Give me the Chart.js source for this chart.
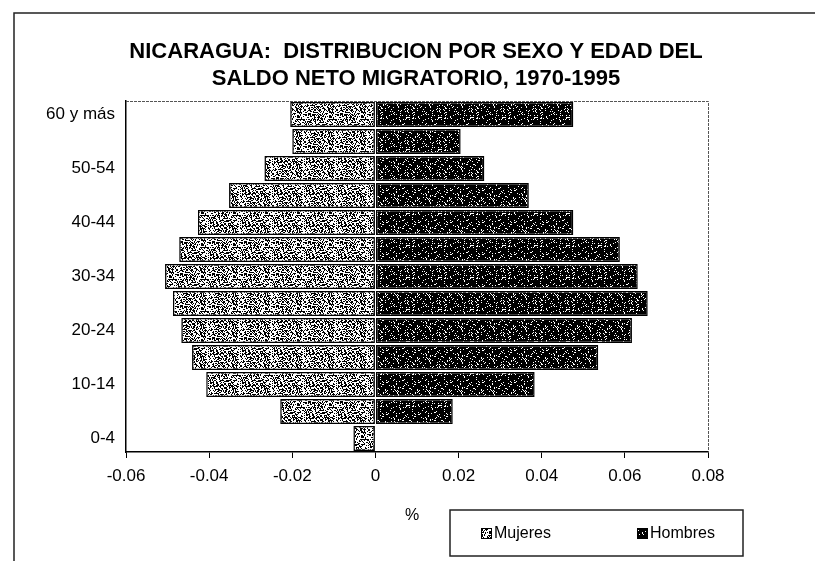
<!DOCTYPE html>
<html>
<head>
<meta charset="utf-8">
<script src="https://cdn.jsdelivr.net/npm/chart.js@4"></script>
<style>
  html, body { margin: 0; padding: 0; background: #fff; }
  #wrap { width: 815px; height: 561px; position: relative; }
</style>
</head>
<body>
<div id="wrap"><canvas id="pyramid" width="815" height="561"></canvas></div>
<script>
// age groups, bottom to top
const ageGroups = ['0-4', '5-9', '10-14', '15-19', '20-24', '25-29', '30-34',
                   '35-39', '40-44', '45-49', '50-54', '55-59', '60 y más'];
const mujeres = [-0.0053, -0.0229, -0.0407, -0.0441, -0.0467, -0.0487, -0.0506,
                 -0.0472, -0.0427, -0.0352, -0.0267, -0.0200, -0.0205];
const hombres = [0, 0.0186, 0.0383, 0.0536, 0.0617, 0.0655, 0.0631,
                 0.0588, 0.0476, 0.0369, 0.0262, 0.0205, 0.0476];
const xTicks = [-0.06, -0.04, -0.02, 0, 0.02, 0.04, 0.06, 0.08];
const titleLines = ['NICARAGUA:  DISTRIBUCION POR SEXO Y EDAD DEL', 'SALDO NETO MIGRATORIO, 1970-1995'];

const FONT = '"Liberation Sans", Arial, sans-serif';

// stippled fill like the scanned hatch (deterministic dither, no randomness)
function makeStipple(bg, fg, density, seed) {
    const c = document.createElement('canvas');
    c.width = c.height = 32;
    const g = c.getContext('2d');
    g.fillStyle = bg;
    g.fillRect(0, 0, 32, 32);
    g.fillStyle = fg;
    for (let y = 0; y < 32; y++) {
        for (let x = 0; x < 32; x++) {
            let h = Math.imul(x * 374761393 + y * 668265263 + seed, 1274126177);
            h ^= h >>> 13;
            h = Math.imul(h, 1103515245);
            h ^= h >>> 16;
            if (((h >>> 0) % 1000) / 1000 < density) g.fillRect(x, y, 1, 1);
        }
    }
    return g.createPattern(c, 'repeat');
}

const fillMujeres = makeStipple('#ffffff', '#000000', 0.46, 7);
const fillHombres = makeStipple('#000000', '#ffffff', 0.12, 13);

const decorPlugin = {
    id: 'decor',
    beforeDraw(chart) {
        const ctx = chart.ctx;
        ctx.save();
        ctx.fillStyle = '#fff';
        ctx.fillRect(0, 0, chart.width, chart.height);
        // outer frame (left + top visible)
        ctx.strokeStyle = '#222';
        ctx.lineWidth = 1.5;
        ctx.beginPath();
        ctx.moveTo(14, 561);
        ctx.lineTo(14, 13);
        ctx.lineTo(815, 13);
        ctx.stroke();
        ctx.restore();
    },
    afterDraw(chart) {
        const ctx = chart.ctx;
        const a = chart.chartArea;
        ctx.save();
        // dashed top/right border of plot
        ctx.strokeStyle = '#555';
        ctx.lineWidth = 1;
        ctx.setLineDash([3, 1]);
        ctx.beginPath();
        ctx.moveTo(a.left, a.top + 0.5);
        ctx.lineTo(a.right + 0.5, a.top + 0.5);
        ctx.lineTo(a.right + 0.5, a.bottom);
        ctx.stroke();
        ctx.setLineDash([]);

        // title
        ctx.fillStyle = '#000';
        ctx.font = 'bold 22px ' + FONT;
        ctx.textAlign = 'center';
        ctx.textBaseline = 'alphabetic';
        ctx.fillText(titleLines[0], 416, 58);
        ctx.fillText(titleLines[1], 416, 85);

        // axis unit
        ctx.font = '16px ' + FONT;
        ctx.fillText('%', 412, 520);

        // legend box
        ctx.strokeStyle = '#222';
        ctx.lineWidth = 1.5;
        ctx.strokeRect(450, 510, 293, 46);
        const items = [
            { label: chart.data.datasets[0].label, fill: fillMujeres, x: 481 },
            { label: chart.data.datasets[1].label, fill: fillHombres, x: 637 }
        ];
        ctx.textAlign = 'left';
        ctx.textBaseline = 'middle';
        items.forEach(it => {
            ctx.fillStyle = it.fill;
            ctx.fillRect(it.x, 528, 10, 10);
            ctx.strokeStyle = '#000';
            ctx.lineWidth = 1;
            ctx.strokeRect(it.x + 0.5, 528.5, 10, 10);
            ctx.fillStyle = '#000';
            ctx.fillText(it.label, it.x + 13, 534);
        });
        ctx.restore();
    }
};

new Chart(document.getElementById('pyramid'), {
    type: 'bar',
    data: {
        labels: ageGroups,
        datasets: [
            { label: 'Mujeres', data: mujeres, backgroundColor: fillMujeres, borderColor: '#000', borderWidth: 1.5, borderSkipped: false },
            { label: 'Hombres', data: hombres, backgroundColor: fillHombres, borderColor: '#000', borderWidth: 1.5, borderSkipped: false }
        ]
    },
    options: {
        indexAxis: 'y',
        responsive: false,
        animation: false,
        layout: { padding: { left: 0, top: 101, right: 107, bottom: 0 } },
        datasets: { bar: { barPercentage: 0.93, categoryPercentage: 1 } },
        plugins: {
            legend: { display: false },
            title: { display: false },
            tooltip: { enabled: false }
        },
        scales: {
            x: {
                type: 'linear',
                stacked: true,
                min: -0.06,
                max: 0.08,
                afterBuildTicks: s => { s.ticks = xTicks.map(v => ({ value: v })); },
                afterFit: s => { s.height = 109; },
                grid: { drawOnChartArea: false, drawTicks: true, tickLength: 6, color: '#000', lineWidth: 1 },
                border: { display: true, color: '#000', width: 1.5 },
                ticks: {
                    padding: 8,
                    color: '#000',
                    font: { family: FONT, size: 17 },
                    callback: v => v === 0 ? '0' : v.toFixed(2)
                }
            },
            y: {
                stacked: true,
                reverse: true,
                afterFit: s => { s.width = 126; },
                grid: { display: false, drawTicks: false },
                border: { display: true, color: '#000', width: 1.5 },
                ticks: {
                    autoSkip: false,
                    padding: 11,
                    color: '#000',
                    font: { family: FONT, size: 17 },
                    callback: (v, i) => i % 2 === 0 ? ageGroups[i] : ''
                }
            }
        }
    },
    plugins: [decorPlugin]
});
</script>
</body>
</html>
